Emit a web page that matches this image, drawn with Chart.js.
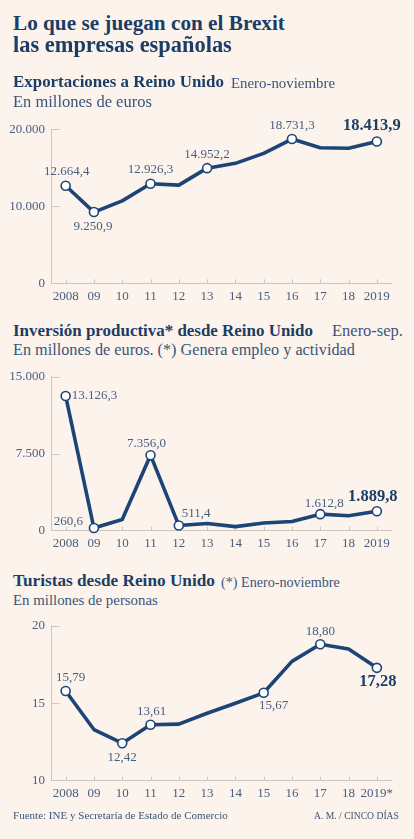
<!DOCTYPE html>
<html><head><meta charset="utf-8">
<script src="https://cdn.jsdelivr.net/npm/chart.js@4.4.1/dist/chart.umd.min.js"></script>
<style>
html,body{margin:0;padding:0;background:#fcf4ec;}
body{width:414px;height:839px;position:relative;overflow:hidden;font-family:"Liberation Serif",serif;}
.t{position:absolute;white-space:nowrap;line-height:1;}
canvas{position:absolute;left:0;}
</style></head><body>
<canvas id="c1" width="414" height="200" style="top:110px"></canvas>
<canvas id="c2" width="414" height="200" style="top:360px"></canvas>
<canvas id="c3" width="414" height="200" style="top:610px"></canvas>
<script>
// ---- data ----
const years = ['2008','09','10','11','12','13','14','15','16','17','18','2019'];
const yearsTourism = ['2008','09','10','11','12','13','14','15','16','17','18','2019*'];
const exportValues = [12664.4, 9250.9, 10700, 12926.3, 12750, 14952.2, 15580, 16880, 18731.3, 17610, 17530, 18413.9];
const investValues = [13126.3, 260.6, 1100, 7356.0, 511.4, 700, 400, 750, 900, 1612.8, 1450, 1889.8];
const touristValues = [15.79, 13.3, 12.42, 13.61, 13.65, 14.35, 15.0, 15.67, 17.7, 18.80, 18.5, 17.28];
const exportTicks = [0, 10000, 20000];
const investTicks = [0, 7500, 15000];
const touristTicks = [10, 15, 20];
const exportLabeled = [0, 1, 3, 5, 8, 11];
const investLabeled = [0, 1, 3, 4, 9, 11];
const touristLabeled = [0, 2, 3, 7, 9, 11];

// ---- styles ----
const NAVY = '#1d4476';
const TITLE = '#1c3d66';
const SUB = '#3a5479';
const LBL = '#485e80';
const AXIS = '#cbc6bf';
const FONT = '"Liberation Serif", serif';

function fmt(v, dec){
  const s = Math.abs(v).toFixed(dec);
  let [i, d] = s.split('.');
  i = i.replace(/\B(?=(\d{3})+(?!\d))/g, '.');
  return (v < 0 ? '-' : '') + i + (d ? ',' + d : '');
}

// ---- texts (fit to reference widths) ----
const texts = [
  {s:'Lo que se juegan con el Brexit', x:13, b:31, w:272, bold:true, c:TITLE},
  {s:'las empresas españolas', x:13, b:52.5, w:219, bold:true, c:TITLE},
  {s:'Exportaciones a Reino Unido', x:13, b:88.5, w:211, bold:true, c:TITLE},
  {s:'Enero-noviembre', x:231, b:88.5, w:104, c:SUB},
  {s:'En millones de euros', x:13, b:107.5, w:139, c:SUB},
  {s:'Inversión productiva* desde Reino Unido', x:13, b:336.7, w:300, bold:true, c:TITLE},
  {s:'Enero-sep.', x:332, b:336.7, w:71, c:SUB},
  {s:'En millones de euros. (*) Genera empleo y actividad', x:13, b:355.5, w:342, c:SUB},
  {s:'Turistas desde Reino Unido', x:13, b:586.7, w:202, bold:true, c:TITLE},
  {s:'(*) Enero-noviembre', x:221, b:586.7, w:119, c:SUB},
  {s:'En millones de personas', x:13, b:605.7, w:145, c:SUB},
  {s:'Fuente: INE y Secretaría de Estado de Comercio', x:13, b:819, w:215, c:SUB},
  {s:'A. M. / CINCO DÍAS', xr:399, b:819, w:85, c:SUB}
];
texts.forEach(t => {
  const el = document.createElement('div');
  el.className = 't';
  el.textContent = t.s;
  el.style.fontWeight = t.bold ? '700' : '400';
  el.style.color = t.c;
  el.style.fontSize = '100px';
  document.body.appendChild(el);
  const w100 = el.getBoundingClientRect().width;
  const size = 100 * t.w / w100;
  el.style.fontSize = size + 'px';
  el.style.top = (t.b - 0.8375 * size) + 'px';
  if (t.xr !== undefined) el.style.left = (t.xr - t.w) + 'px';
  else el.style.left = t.x + 'px';
});

// ---- plugin: inner ticks + value labels ----
const decor = {
  id: 'decor',
  beforeDatasetsDraw(chart){
    const {ctx, chartArea: a, scales: {x, y}} = chart;
    ctx.save();
    ctx.strokeStyle = AXIS; ctx.lineWidth = 1;
    y.ticks.forEach(t => {
      if (t.value === y.min) return;
      const py = Math.round(y.getPixelForValue(t.value)) + 0.5;
      ctx.beginPath(); ctx.moveTo(a.left, py); ctx.lineTo(a.left + 8, py); ctx.stroke();
    });
    x.ticks.forEach((t, i) => {
      const px = Math.round(x.getPixelForValue(i)) + 0.5;
      ctx.beginPath(); ctx.moveTo(px, a.bottom); ctx.lineTo(px, a.bottom - 4); ctx.stroke();
    });
    ctx.restore();
  },
  afterDatasetsDraw(chart, args, opts){
    const {ctx} = chart;
    const meta = chart.getDatasetMeta(0);
    const data = chart.data.datasets[0].data;
    ctx.save();
    ctx.textBaseline = 'middle';
    (opts.labels || []).forEach(l => {
      const p = meta.data[l.i];
      ctx.font = (l.bold ? '700 16.5px ' : '400 13px ') + FONT;
      ctx.fillStyle = l.bold ? TITLE : LBL;
      ctx.textAlign = l.align || 'center';
      ctx.fillText(fmt(data[l.i], opts.dec), p.x + l.dx, p.y + l.dy);
    });
    ctx.restore();
  }
};

function makeChart(id, labels, values, ticks, labeled, dec, padTop, xHeight, labelSpec){
  const radii = values.map((v, i) => labeled.includes(i) ? 4.5 : 0);
  return new Chart(document.getElementById(id), {
    type: 'line',
    data: {labels, datasets: [{
      data: values,
      borderColor: NAVY, borderWidth: 3.6, tension: 0,
      borderJoinStyle: 'round', borderCapStyle: 'round',
      pointRadius: radii, pointHoverRadius: radii,
      pointBackgroundColor: '#ffffff', pointBorderColor: NAVY, pointBorderWidth: 1.6,
      clip: false
    }]},
    options: {
      responsive: false, animation: false, devicePixelRatio: 1,
      layout: {padding: {top: padTop, right: 23, left: 0, bottom: 0}},
      plugins: {legend: {display: false}, tooltip: {enabled: false}, decor: {labels: labelSpec, dec}},
      scales: {
        x: {
          offset: true,
          grid: {display: false, drawTicks: false},
          border: {display: true, color: AXIS, width: 1},
          ticks: {padding: 5, color: LBL, font: {family: FONT, size: 13}, maxRotation: 0, autoSkip: false},
          afterFit(s){ s.height = xHeight; }
        },
        y: {
          min: ticks[0], max: ticks[ticks.length - 1],
          afterBuildTicks(s){ s.ticks = ticks.map(v => ({value: v})); },
          grid: {display: false, drawTicks: false},
          border: {display: true, color: AXIS, width: 1},
          ticks: {padding: 6.5, color: LBL, font: {family: FONT, size: 13},
            callback: v => fmt(v, 0)},
          afterFit(s){ s.width = 51.5; }
        }
      }
    },
    plugins: [decor]
  });
}

makeChart('c1', years, exportValues, exportTicks, exportLabeled, 1, 19.3, 26.7, [
  {i:0, dx:1, dy:-14}, {i:1, dx:-1, dy:15}, {i:3, dx:0, dy:-14},
  {i:5, dx:0, dy:-14}, {i:8, dx:0, dy:-13}, {i:11, dx:-5, dy:-16, bold:true}
]);
makeChart('c2', years, investValues, investTicks, investLabeled, 1, 16.7, 29.3, [
  {i:0, dx:6, dy:0, align:'left'}, {i:1, dx:-11, dy:-6, align:'right'},
  {i:3, dx:-4, dy:-12}, {i:4, dx:3, dy:-12, align:'left'},
  {i:9, dx:4, dy:-11}, {i:11, dx:-4, dy:-15, bold:true}
]);
makeChart('c3', yearsTourism, touristValues, touristTicks, touristLabeled, 2, 15.7, 29.3, [
  {i:0, dx:5, dy:-13}, {i:2, dx:0, dy:14}, {i:3, dx:1, dy:-13},
  {i:7, dx:10, dy:13}, {i:9, dx:0, dy:-13}, {i:11, dx:1, dy:14, bold:true}
]);
</script>
</body></html>
